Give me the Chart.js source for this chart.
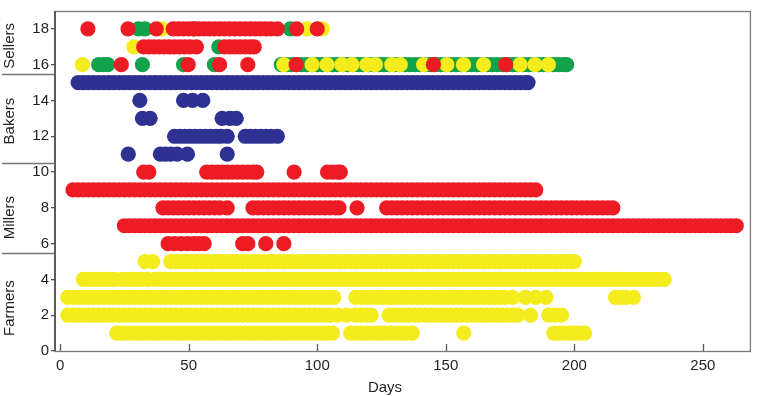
<!DOCTYPE html>
<html><head><meta charset="utf-8">
<script src="https://cdn.jsdelivr.net/npm/chart.js@4"></script>
<style>html,body{margin:0;padding:0;background:#fff}</style>
</head><body>
<canvas id="c" width="758" height="396"></canvas>
<script>
// ---- labels / ticks ----
const groupNames = ['Farmers', 'Millers', 'Bakers', 'Sellers'];
const groupLabelAt = [2.4, 7.45, 12.85, 17.05];
const groupSeparators = [5.5, 10.5, 15.5];
const xTickValues = [0, 50, 100, 150, 200, 250];
const yTickValues = [0, 2, 4, 6, 8, 10, 12, 14, 16, 18];
const xTitle = 'Days';

// ---- Farmers (yellow), rows 1-5 : days present ----
const farmersRow1 = [22,24,26,28,30,32,34,36,38,40,42,44,46,48,50,52,54,56,58,60,62,64,66,68,70,72,74,76,78,80,82,84,86,88,90,92,94,96,98,100,102,104,106,113,115,117,119,121,123,125,127,129,131,133,135,137,157,192,194,196,198,200,202,204];
const farmersRow2 = [3,5,7,9,11,13,15,17,19,21,23,25,27,29,31,33,35,37,39,41,43,45,47,49,51,53,55,57,59,61,63,65,67,69,71,73,75,77,79,81,83,85,87,89,91,93,95,97,99,101,103,105,108,111.5,115,117,119,121,128,130,132,134,136,138,140,142,144,146,148,150,152,154,156,158,160,162,164,166,168,170,172,174,176,178,183,190,192.5,195];
const farmersRow3 = [3,5,7,9,11,13,15,17,19,21,23,25,27,29,31,33,35,37,39,41,43,45,47,49,51,53,55,57,59,61,63,65,67,69,71,73,75,77,79,81,83,85,87,89,91,93,95,97,99,101,103,105,106.5,115,117,119,121,123,125,127,129,131,133,135,137,139,141,143,145,147,149,151,153,155,157,159,161,163,165,167,169,171,173,176,181,185,189,216,218,220,223];
const farmersRow4 = [9,11,13,15,17,19,21,24,26,28,30,32,34,37,39,41,43,45,47,49,51,53,55,57,59,61,63,65,67,69,71,73,75,77,79,81,83,85,87,89,91,93,95,97,99,101,103,105,107,109,111,113,115,117,119,121,123,125,127,129,131,133,135,137,139,141,143,145,147,149,151,153,155,157,159,161,163,165,167,169,171,173,175,177,179,181,183,185,187,189,191,193,195,197,199,201,203,205,207,209,211,213,215,217,219,221,223,225,227,229,231,233,235];
const farmersRow5 = [33,36,43,45,47,49,51,53,55,57,59,61,63,65,67,69,71,73,75,77,79,81,83,85,87,89,91,93,95,97,99,101,103,105,107,109,111,113,115,117,119,121,123,125,127,129,131,133,135,137,139,141,143,145,147,149,151,153,155,157,159,161,163,165,167,169,171,173,175,177,179,181,183,185,187,189,191,193,195,197,199,200];

// ---- Millers (red), rows 6-10 ----
const millersRow6 = [42,44.5,47,49.5,52,54,56,71,73,80,87];
const millersRow7 = [25,27,29,31,33,35,37,39,41,43,45,47,49,51,53,55,57,59,61,63,65,67,69,71,73,75,77,79,81,83,85,87,89,91,93,95,97,99,101,103,105,107,109,111,113,115,117,119,121,123,125,127,129,131,133,135,137,139,141,143,145,147,149,151,153,155,157,159,161,163,165,167,169,171,173,175,177,179,181,183,185,187,189,191,193,195,197,199,201,203,205,207,209,211,213,215,217,219,221,223,225,227,229,231,233,235,237,239,241,243,245,247,249,251,253,255,257,259,261,263];
const millersRow8 = [40,42,44,46,48,50,52,54,56,58,60,62,65,75,77,79,81,83,85,87,89,91,93,95,97,99,101,103,105,107,108.5,115.5,127,129,131,133,135,137,139,141,143,145,147,149,151,153,155,157,159,161,163,165,167,169,171,173,175,177,179,181,183,185,187,189,191,193,195,197,199,201,203,205,207,209,211,213,215];
const millersRow9 = [5,7,9,11,13,15,17,19,21,23,25,27,29,31,33,35,37,39,41,43,45,47,49,51,53,55,57,59,61,63,65,67,69,71,73,75,77,79,81,83,85,87,89,91,93,95,97,99,101,103,105,107,109,111,113,115,117,119,121,123,125,127,129,131,133,135,137,139,141,143,145,147,149,151,153,155,157,159,161,163,165,167,169,171,173,175,177,179,181,183,185];
const millersRow10 = [32.5,34.5,57,59,61,63,65,67,69,71,73,75,76.5,91,104,106,108,109];

// ---- Bakers (blue), rows 11-15 ----
const bakersRow11 = [26.5,39,41,43,45.5,49.5,65];
const bakersRow12 = [44.5,46.5,48.5,50.5,52.5,54.5,56.5,58.5,60.5,62.5,65,72,74,76,78,80,82,84.5];
const bakersRow13 = [32,35,63,66,68.5];
const bakersRow14 = [31,48,51.5,55.5];
const bakersRow15 = [7,9,11,13,15,17,19,21,23,25,27,29,31,33,35,37,39,41,43,45,47,49,51,53,55,57,59,61,63,65,67,69,71,73,75,77,79,81,83,85,87,89,91,93,95,97,99,101,103,105,107,109,111,113,115,117,119,121,123,125,127,129,131,133,135,137,139,141,143,145,147,149,151,153,155,157,159,161,163,165,167,169,171,173,175,177,179,181,182];

// ---- Sellers, rows 16-18 (three colours) ----
const sellersRow16Green = [15,17,18.5,32,48,60,86,88,90,92,94,96,98,100,102,104,106,108,110,112,114,116,118,120,122,124,126,128,130,132,134,136,138,140,142,144,146,148,150,152,154,156,158,160,162,164,166,168,170,172,174,176,178,180,182,184,186,188,190,192,194,196,197];
const sellersRow16Yellow = [8.7,87,98,103.8,109.6,113.5,119.3,122.6,129,132.3,141.4,150.4,156.9,164.7,178.9,184.7,189.9];
const sellersRow16Red = [23.8,49.8,62,73,91.8,145.2,173.3];
const sellersRow17Green = [61.7];
const sellersRow17Yellow = [28.7];
const sellersRow17Red = [32.5,34.5,36.5,38.5,40.5,42.5,44.5,46.5,48.5,50.5,53,64,66,68,70,72,74,75.5];
const sellersRow18Green = [30.5,33,52,89.5];
const sellersRow18Yellow = [39.5,96,102];
const sellersRow18Red = [10.8,26.4,37.4,44,46,48,50,52,54,56,58,60,62,64,66,68,70,72,74,76,78,80,82,84.5,92,100];

const RED = '#ED1C24', YELLOW = '#F5EC1E', GREEN = '#12A24C', BLUE = '#2E3192';

function pts(days, row) { return days.map(d => ({ x: d, y: row })); }

const redData = [].concat(pts(millersRow6,6), pts(millersRow7,7), pts(millersRow8,8), pts(millersRow9,9), pts(millersRow10,10),
  pts(sellersRow16Red,16), pts(sellersRow17Red,17), pts(sellersRow18Red,18));
const yellowData = [].concat(pts(farmersRow1,1), pts(farmersRow2,2), pts(farmersRow3,3), pts(farmersRow4,4), pts(farmersRow5,5),
  pts(sellersRow16Yellow,16), pts(sellersRow17Yellow,17), pts(sellersRow18Yellow,18));
const greenData = [].concat(pts(sellersRow16Green,16), pts(sellersRow17Green,17), pts(sellersRow18Green,18));
const blueData = [].concat(pts(bakersRow11,11), pts(bakersRow12,12), pts(bakersRow13,13), pts(bakersRow14,14), pts(bakersRow15,15));

Chart.defaults.font.family = '"Liberation Sans", Arial, sans-serif';
Chart.defaults.font.size = 15;
Chart.defaults.color = '#231F20';

const framePlugin = {
  id: 'frame',
  afterDraw(chart) {
    const { ctx, chartArea: a, scales: { x, y } } = chart;
    ctx.save();
    ctx.lineWidth = 1.3;
    ctx.strokeStyle = '#7a7a7a';
    ctx.strokeRect(a.left, a.top + 0.5, a.right - a.left, a.bottom - a.top);
    ctx.strokeStyle = '#333';
    ctx.beginPath(); ctx.moveTo(a.left, a.top); ctx.lineTo(a.left, a.bottom); ctx.stroke();
    ctx.strokeStyle = '#555';
    xTickValues.forEach(v => {
      const px = Math.round(x.getPixelForValue(v)) + 0.5;
      ctx.beginPath(); ctx.moveTo(px, a.bottom); ctx.lineTo(px, a.bottom - 7); ctx.stroke();
    });
    ctx.strokeStyle = '#777';
    groupSeparators.forEach(v => {
      const py = Math.round(y.getPixelForValue(v)) + 0.5;
      ctx.beginPath(); ctx.moveTo(2, py); ctx.lineTo(a.left, py); ctx.stroke();
    });
    ctx.fillStyle = '#231F20';
    ctx.font = '15px "Liberation Sans", Arial, sans-serif';
    ctx.textAlign = 'center';
    ctx.textBaseline = 'middle';
    groupNames.forEach((name, i) => {
      const py = y.getPixelForValue(groupLabelAt[i]);
      ctx.save(); ctx.translate(9.5, py); ctx.rotate(-Math.PI / 2); ctx.fillText(name, 0, 0); ctx.restore();
    });
    ctx.fillText(xTitle, 385, 388);
    ctx.restore();
  }
};

new Chart(document.getElementById('c'), {
  type: 'scatter',
  data: {
    datasets: [
      { label: 'red', data: redData, backgroundColor: RED, order: 0 },
      { label: 'yellow', data: yellowData, backgroundColor: YELLOW, order: 1 },
      { label: 'green', data: greenData, backgroundColor: GREEN, order: 2 },
      { label: 'blue', data: blueData, backgroundColor: BLUE, order: 3 }
    ]
  },
  options: {
    responsive: false,
    animation: false,
    devicePixelRatio: 1,
    layout: { padding: { top: 1, right: 4, left: 0, bottom: 0 } },
    elements: { point: { radius: 7.6, borderWidth: 0, hoverRadius: 7.6 } },
    plugins: { legend: { display: false }, tooltip: { enabled: false } },
    scales: {
      x: {
        type: 'linear', min: -2, max: 268.5,
        afterBuildTicks: s => { s.ticks = xTickValues.map(v => ({ value: v })); },
        afterFit: s => { s.height = 45; },
        grid: { display: false, drawTicks: false },
        border: { display: false },
        ticks: { padding: 6, maxRotation: 0, autoSkip: false }
      },
      y: {
        type: 'linear', min: 0, max: 19,
        afterBuildTicks: s => { s.ticks = yTickValues.map(v => ({ value: v })); },
        afterFit: s => { s.width = 55; },
        grid: { drawOnChartArea: false, drawTicks: true, tickLength: 4, color: '#555', lineWidth: 1.3 },
        border: { display: false },
        ticks: { padding: 2, autoSkip: false }
      }
    }
  },
  plugins: [framePlugin]
});
</script>
</body></html>
